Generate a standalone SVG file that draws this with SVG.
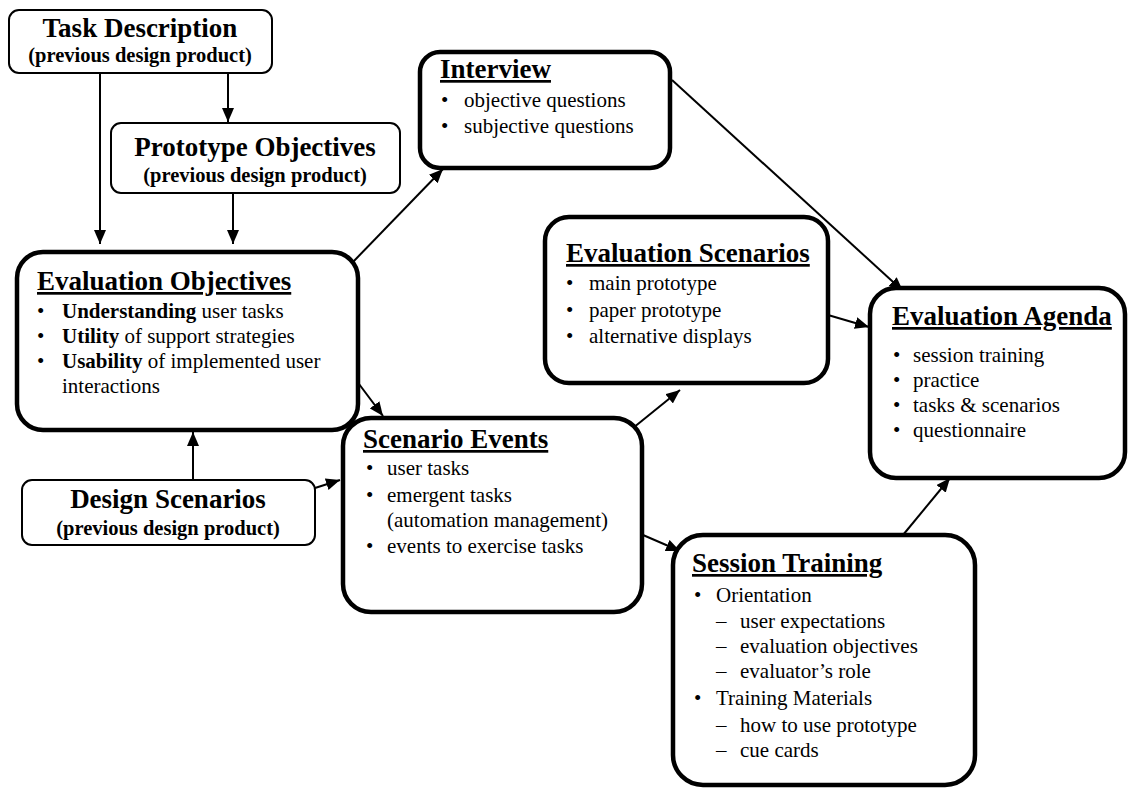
<svg xmlns="http://www.w3.org/2000/svg" width="1130" height="790" viewBox="0 0 1130 790">
<style>
text{font-family:"Liberation Serif","Times New Roman",serif;fill:#000}
.thin{fill:#fff;stroke:#000;stroke-width:2}
.thick{fill:#fff;stroke:#000;stroke-width:4.5}
.h{font-size:27px;font-weight:bold}
.sub{font-size:20.5px;font-weight:bold}
.t{font-size:27px;font-weight:bold;text-decoration:underline}
.b{font-size:21px}
.c{stroke:#000;stroke-width:2;fill:none}
</style>
<defs>
<marker id="ah" viewBox="0 0 14 12" refX="14" refY="6" markerWidth="14" markerHeight="12" markerUnits="userSpaceOnUse" orient="auto">
<path d="M0,0 L14,6 L0,12 z" fill="#000"/>
</marker>
</defs>
<g id="connectors">
<line class="c" x1="100" y1="73" x2="100" y2="244" marker-end="url(#ah)"/>
<line class="c" x1="228" y1="73" x2="228" y2="122" marker-end="url(#ah)"/>
<line class="c" x1="233" y1="193" x2="233" y2="244" marker-end="url(#ah)"/>
<line class="c" x1="193" y1="480" x2="193" y2="432" marker-end="url(#ah)"/>
<line class="c" x1="315" y1="488" x2="340" y2="480" marker-end="url(#ah)"/>
<line class="c" x1="352" y1="263" x2="443" y2="169" marker-end="url(#ah)"/>
<line class="c" x1="356" y1="380" x2="383" y2="416" marker-end="url(#ah)"/>
<line class="c" x1="672" y1="80" x2="903" y2="291" marker-end="url(#ah)"/>
<line class="c" x1="633" y1="428" x2="680" y2="390" marker-end="url(#ah)"/>
<line class="c" x1="828" y1="315" x2="869" y2="327" marker-end="url(#ah)"/>
<line class="c" x1="643" y1="535" x2="680" y2="551" marker-end="url(#ah)"/>
<line class="c" x1="903" y1="535" x2="950" y2="478" marker-end="url(#ah)"/>
</g>
<g id="task-description">
<rect class="thin" x="9" y="10" width="263" height="63" rx="10"/>
<text class="h" x="140" y="37" text-anchor="middle">Task Description</text>
<text class="sub" x="140" y="62" text-anchor="middle">(previous design product)</text>
</g>
<g id="prototype-objectives">
<rect class="thin" x="111" y="123" width="289" height="70" rx="10"/>
<text class="h" x="255" y="156" text-anchor="middle">Prototype Objectives</text>
<text class="sub" x="255" y="182" text-anchor="middle">(previous design product)</text>
</g>
<g id="evaluation-objectives">
<rect class="thick" x="17" y="252" width="341" height="178" rx="26"/>
<text class="t" x="37" y="290">Evaluation Objectives</text>
<text class="b" x="37" y="318">•<tspan x="62" font-weight="bold">Understanding</tspan> user tasks</text>
<text class="b" x="37" y="343">•<tspan x="62" font-weight="bold">Utility</tspan> of support strategies</text>
<text class="b" x="37" y="368">•<tspan x="62" font-weight="bold">Usability</tspan> of implemented user</text>
<text class="b" x="62" y="393">interactions</text>
</g>
<g id="design-scenarios">
<rect class="thin" x="22" y="480" width="293" height="65" rx="10"/>
<text class="h" x="168" y="508" text-anchor="middle">Design Scenarios</text>
<text class="sub" x="168" y="535" text-anchor="middle">(previous design product)</text>
</g>
<g id="interview">
<rect class="thick" x="420" y="52" width="250" height="116" rx="20"/>
<text class="t" x="440" y="78">Interview</text>
<text class="b" x="441" y="107">•<tspan x="464">objective questions</tspan></text>
<text class="b" x="441" y="133">•<tspan x="464">subjective questions</tspan></text>
</g>
<g id="evaluation-scenarios">
<rect class="thick" x="545" y="217" width="283" height="166" rx="24"/>
<text class="t" x="566" y="262">Evaluation Scenarios</text>
<text class="b" x="566" y="290">•<tspan x="589">main prototype</tspan></text>
<text class="b" x="566" y="317">•<tspan x="589">paper prototype</tspan></text>
<text class="b" x="566" y="343">•<tspan x="589">alternative displays</tspan></text>
</g>
<g id="evaluation-agenda">
<rect class="thick" x="870" y="288" width="255" height="190" rx="26"/>
<text class="t" x="892" y="325">Evaluation Agenda</text>
<text class="b" x="893" y="362">•<tspan x="913">session training</tspan></text>
<text class="b" x="893" y="387">•<tspan x="913">practice</tspan></text>
<text class="b" x="893" y="412">•<tspan x="913">tasks &amp; scenarios</tspan></text>
<text class="b" x="893" y="437">•<tspan x="913">questionnaire</tspan></text>
</g>
<g id="scenario-events">
<rect class="thick" x="343" y="418" width="299" height="194" rx="28"/>
<text class="t" x="363" y="448">Scenario Events</text>
<text class="b" x="366" y="475">•<tspan x="387">user tasks</tspan></text>
<text class="b" x="366" y="502">•<tspan x="387">emergent tasks</tspan></text>
<text class="b" x="387" y="527">(automation management)</text>
<text class="b" x="366" y="553">•<tspan x="387">events to exercise tasks</tspan></text>
</g>
<g id="session-training">
<rect class="thick" x="673" y="535" width="302" height="250" rx="30"/>
<text class="t" x="692" y="572">Session Training</text>
<text class="b" x="694" y="602">•<tspan x="716">Orientation</tspan></text>
<text class="b" x="716" y="628">–<tspan x="740">user expectations</tspan></text>
<text class="b" x="716" y="653">–<tspan x="740">evaluation objectives</tspan></text>
<text class="b" x="716" y="678">–<tspan x="740">evaluator’s role</tspan></text>
<text class="b" x="694" y="705">•<tspan x="716">Training Materials</tspan></text>
<text class="b" x="716" y="732">–<tspan x="740">how to use prototype</tspan></text>
<text class="b" x="716" y="757">–<tspan x="740">cue cards</tspan></text>
</g>
</svg>
